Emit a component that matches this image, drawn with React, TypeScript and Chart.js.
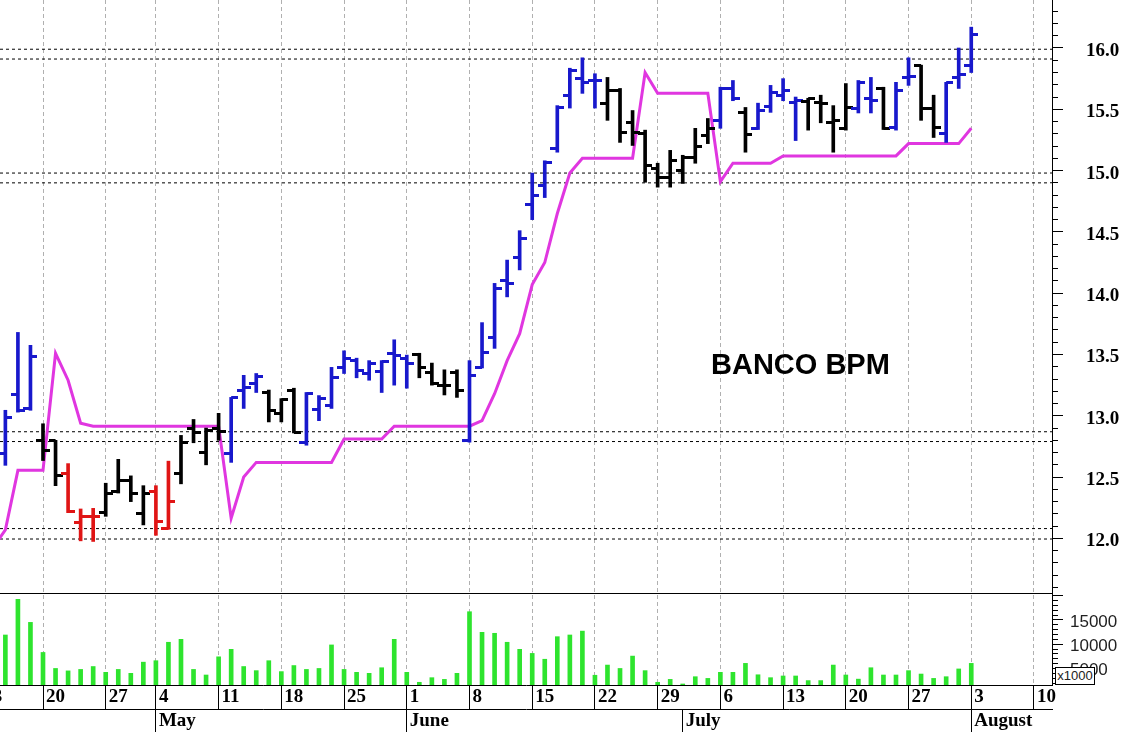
import React, { useEffect, useRef } from 'react';
import { Chart, registerables } from 'chart.js';

Chart.register(...registerables);

// ---- Axis days (trading days, MM-DD) ----
const AXIS_DAYS = [
  '04-13','04-14','04-15','04-16','04-17','04-20','04-21','04-22','04-23','04-24',
  '04-27','04-28','04-29','04-30','05-04','05-05','05-06','05-07','05-08','05-11',
  '05-12','05-13','05-14','05-15','05-18','05-19','05-20','05-21','05-22','05-25',
  '05-26','05-27','05-28','05-29','06-01','06-02','06-03','06-04','06-05','06-08',
  '06-09','06-10','06-11','06-12','06-15','06-16','06-17','06-18','06-19','06-22',
  '06-23','06-24','06-25','06-26','06-29','06-30','07-01','07-02','07-03','07-06',
  '07-07','07-08','07-09','07-10','07-13','07-14','07-15','07-16','07-17','07-20',
  '07-21','07-22','07-23','07-24','07-27','07-28','07-29','07-30','07-31','08-03',
  '08-04','08-05','08-06','08-07','08-10',
];
const WEEK_TICKS = [
  { day: '04-13', label: '13' }, { day: '04-20', label: '20' }, { day: '04-27', label: '27' },
  { day: '05-04', label: '4' }, { day: '05-11', label: '11' }, { day: '05-18', label: '18' },
  { day: '05-25', label: '25' }, { day: '06-01', label: '1' }, { day: '06-08', label: '8' },
  { day: '06-15', label: '15' }, { day: '06-22', label: '22' }, { day: '06-29', label: '29' },
  { day: '07-06', label: '6' }, { day: '07-13', label: '13' }, { day: '07-20', label: '20' },
  { day: '07-27', label: '27' }, { day: '08-03', label: '3' }, { day: '08-10', label: '10' },
];
const MONTH_TICKS = [
  { day: '05-04', label: 'May' }, { day: '06-01', label: 'June' },
  { day: '07-01', label: 'July' }, { day: '08-03', label: 'August' },
];
const PRICE_LABELS = ['12.0', '12.5', '13.0', '13.5', '14.0', '14.5', '15.0', '15.5', '16.0'];
const VOLUME_LABELS = ['5000', '10000', '15000'];

// ---- Series (one value per trading day, 04-13 .. 08-03) ----
const OPEN = [
  12.40, 12.60, 12.69, 13.17, 13.06, 12.80, 12.80, 12.53, 12.13, 12.18,
  12.21, 12.385, 12.47, 12.20, 12.38, 12.08, 12.53, 12.90, 12.70, 12.90,
  12.69, 13.21, 13.26, 13.19, 13.02, 13.21, 12.78, 13.05, 13.08, 13.395,
  13.45, 13.345, 13.36, 13.51, 13.47, 13.50, 13.355, 13.25, 13.355, 12.80,
  13.395, 13.64, 14.10, 14.29, 14.72, 14.88, 15.18, 15.615, 15.75, 15.735,
  15.55, 15.655, 15.39, 15.30, 15.02, 14.945, 15.00, 15.11, 15.29, 15.41,
  15.67, 15.475, 15.345, 15.525, 15.615, 15.555, 15.565, 15.555, 15.39, 15.345,
  15.51, 15.59, 15.67, 15.355, 15.76, 15.86, 15.51, 15.305, 15.76, 15.86,
];
const HIGH = [
  12.70, 12.85, 13.045, 13.68, 13.575, 12.935, 12.80, 12.61, 12.24, 12.245,
  12.45, 12.645, 12.51, 12.43, 12.43, 12.63, 12.84, 12.97, 12.90, 13.02,
  13.15, 13.33, 13.345, 13.21, 13.14, 13.225, 13.19, 13.165, 13.395, 13.53,
  13.47, 13.45, 13.45, 13.62, 13.495, 13.51, 13.43, 13.375, 13.375, 13.45,
  13.76, 14.08, 14.27, 14.51, 14.98, 15.08, 15.53, 15.835, 15.92, 15.79,
  15.76, 15.67, 15.49, 15.33, 15.06, 15.165, 15.125, 15.345, 15.425, 15.68,
  15.735, 15.515, 15.55, 15.695, 15.75, 15.60, 15.59, 15.615, 15.53, 15.71,
  15.735, 15.76, 15.68, 15.72, 15.92, 15.86, 15.615, 15.72, 16.00, 16.17,
];
const LOW = [
  12.35, 12.50, 12.596, 13.03, 13.045, 12.635, 12.43, 12.21, 11.98, 11.975,
  12.18, 12.37, 12.30, 12.11, 12.025, 12.075, 12.445, 12.78, 12.60, 12.80,
  12.62, 13.06, 13.19, 12.95, 12.95, 12.86, 12.76, 12.96, 13.06, 13.345,
  13.31, 13.29, 13.19, 13.25, 13.225, 13.31, 13.25, 13.17, 13.15, 12.785,
  13.39, 13.55, 13.97, 14.19, 14.60, 14.78, 15.15, 15.51, 15.63, 15.51,
  15.41, 15.23, 15.205, 14.905, 14.865, 14.865, 14.895, 15.06, 15.22, 15.345,
  15.57, 15.15, 15.335, 15.475, 15.57, 15.245, 15.33, 15.39, 15.15, 15.33,
  15.47, 15.47, 15.335, 15.33, 15.695, 15.41, 15.27, 15.23, 15.67, 15.80,
];
const CLOSE = [
  12.62, 12.70, 12.99, 13.04, 13.48, 12.72, 12.51, 12.22, 12.18, 12.18,
  12.37, 12.47, 12.37, 12.37, 12.14, 12.30, 12.78, 12.86, 12.88, 12.875,
  13.15, 13.23, 13.32, 13.045, 13.13, 12.865, 13.18, 13.14, 13.315, 13.47,
  13.37, 13.43, 13.44, 13.495, 13.43, 13.395, 13.265, 13.25, 13.21, 13.33,
  13.52, 14.04, 14.08, 14.45, 14.80, 15.07, 15.515, 15.82, 15.72, 15.735,
  15.655, 15.31, 15.31, 15.04, 14.945, 15.08, 15.11, 15.20, 15.345, 15.67,
  15.59, 15.295, 15.49, 15.64, 15.655, 15.57, 15.59, 15.545, 15.41, 15.515,
  15.72, 15.57, 15.345, 15.655, 15.77, 15.51, 15.355, 15.72, 15.78, 16.11,
];
// b = blue, k = black, r = red
const BAR_COLOR = [
  'b','b','b','b','b','k','k','r','r','r',
  'k','k','k','k','r','r','k','k','k','k',
  'b','b','b','k','k','k','b','b','b','b',
  'b','b','b','b','b','k','k','k','k','b',
  'b','b','b','b','b','b','b','b','b','b',
  'k','k','k','k','k','k','k','k','k','b',
  'b','k','b','b','b','b','k','k','k','k',
  'b','b','k','b','b','k','k','b','b','b',
];
const STOP = [
  11.80, 11.92, 12.07, 12.555, 12.555, 12.555, 13.51, 13.29, 12.94, 12.915,
  12.915, 12.915, 12.915, 12.915, 12.915, 12.915, 12.915, 12.915, 12.915, 12.915,
  12.165, 12.50, 12.62, 12.62, 12.62, 12.62, 12.62, 12.62, 12.62, 12.81,
  12.81, 12.81, 12.81, 12.915, 12.915, 12.915, 12.915, 12.915, 12.915, 12.915,
  12.96, 13.18, 13.45, 13.67, 14.07, 14.25, 14.65, 14.98, 15.10, 15.10,
  15.10, 15.10, 15.10, 15.80, 15.63, 15.63, 15.63, 15.63, 15.63, 14.91,
  15.06, 15.06, 15.06, 15.06, 15.12, 15.12, 15.12, 15.12, 15.12, 15.12,
  15.12, 15.12, 15.12, 15.12, 15.22, 15.22, 15.22, 15.22, 15.22, 15.345,
];
const VOLUME = [
  6000, 7000, 11900, 19250, 14500, 8300, 5000, 4500, 4800, 5400,
  4200, 4800, 4000, 6300, 6600, 10400, 11000, 4800, 3650, 7400,
  8950, 5400, 4550, 6600, 4350, 5600, 4800, 5000, 9850, 4800,
  4200, 4000, 5150, 11000, 4200, 2150, 3100, 2750, 4000, 16700,
  12450, 12250, 10400, 8950, 8100, 6900, 11550, 11900, 12700, 3600,
  5700, 5000, 7550, 4550, 2150, 2750, 1800, 3300, 2950, 4200,
  4200, 6050, 3700, 3100, 3450, 3450, 2500, 2500, 5700, 3650,
  2800, 5150, 3650, 3650, 4550, 3850, 2950, 3300, 4900, 6050,
];
const SUPPORT_LEVELS = [15.99, 15.91, 14.98, 14.90, 12.87, 12.79, 12.08, 11.995];

// ---- Scale ranges ----
const X_MIN = 1.572;
const X_MAX = 85.437;
const P_MIN = 11.5546;
const P_MAX = 16.3915;
const V_MIN = 1590;
const V_MAX = 20557;

const PALETTE: Record<string, string> = { b: '#1818cc', k: '#000000', r: '#e01515' };
const SERIF = "'Liberation Serif', 'Times New Roman', serif";
const SANS = "'Liberation Sans', Arial, sans-serif";

export default function App() {
  const ref = useRef<HTMLCanvasElement | null>(null);

  useEffect(() => {
    const canvas = ref.current;
    if (!canvas) return;

    const makeTick = (color: string, side: 'L' | 'R') => {
      const c = document.createElement('canvas');
      c.width = 14;
      c.height = 3;
      const g = c.getContext('2d')!;
      g.fillStyle = color;
      if (side === 'L') g.fillRect(0, 0, 7, 3);
      else g.fillRect(7, 0, 7, 3);
      return c;
    };
    const openImg: Record<string, HTMLCanvasElement> = {};
    const closeImg: Record<string, HTMLCanvasElement> = {};
    Object.keys(PALETTE).forEach((k) => {
      openImg[k] = makeTick(PALETTE[k], 'L');
      closeImg[k] = makeTick(PALETTE[k], 'R');
    });

    const weekIdx = WEEK_TICKS.map((w) => AXIS_DAYS.indexOf(w.day));
    const monthIdx = MONTH_TICKS.map((m) => AXIS_DAYS.indexOf(m.day));
    const priceTicks: number[] = [];
    for (let k = 116; k <= 163; k++) priceTicks.push(k / 10);
    const volTicks: number[] = [];
    for (let k = 2; k <= 20; k++) volTicks.push(k * 1000);
    volTicks.push(V_MAX);
    const isMajorPrice = (v: number) => Math.round(v * 10) % 5 === 0;

    const supportSets = SUPPORT_LEVELS.map((lvl) => ({
      type: 'line' as const,
      xAxisID: 'x',
      yAxisID: 'y',
      data: [{ x: X_MIN, y: lvl }, { x: X_MAX, y: lvl }],
      borderColor: '#000',
      borderWidth: 1,
      borderDash: [3, 3],
      pointRadius: 0,
      order: 9,
    }));

    const chart = new Chart(canvas, {
      type: 'line',
      data: {
        datasets: [
          ...supportSets,
          {
            type: 'bar', xAxisID: 'x', yAxisID: 'yv',
            data: VOLUME.map((v, i) => ({ x: i, y: v })),
            backgroundColor: '#2ee42e', borderWidth: 0, barThickness: 4, grouped: false, order: 8,
          } as any,
          {
            type: 'line', xAxisID: 'x', yAxisID: 'y',
            data: STOP.map((v, i) => ({ x: i, y: v })),
            borderColor: '#e036e0', borderWidth: 3, pointRadius: 0, tension: 0, order: 5,
          },
          {
            type: 'bar', xAxisID: 'x', yAxisID: 'y',
            data: HIGH.map((h, i) => ({ x: i, y: [LOW[i], h] })),
            backgroundColor: BAR_COLOR.map((c) => PALETTE[c]),
            borderWidth: 0, barThickness: 3, grouped: false, order: 2,
          } as any,
          {
            type: 'scatter', xAxisID: 'x', yAxisID: 'y',
            data: OPEN.map((v, i) => ({ x: i, y: v })),
            pointStyle: (ctx: any) => openImg[BAR_COLOR[ctx.dataIndex] || 'k'],
            pointRadius: 3, showLine: false, order: 1,
          } as any,
          {
            type: 'scatter', xAxisID: 'x', yAxisID: 'y',
            data: CLOSE.map((v, i) => ({ x: i, y: v })),
            pointStyle: (ctx: any) => closeImg[BAR_COLOR[ctx.dataIndex] || 'k'],
            pointRadius: 3, showLine: false, order: 1,
          } as any,
        ],
      },
      options: {
        responsive: false,
        devicePixelRatio: 1,
        animation: false,
        events: [],
        layout: { padding: 0, autoPadding: false },
        plugins: { legend: { display: false }, tooltip: { enabled: false }, title: { display: false } },
        scales: {
          x: {
            type: 'linear', position: 'bottom', min: X_MIN, max: X_MAX, offset: false,
            afterBuildTicks: (s: any) => { s.ticks = weekIdx.map((v) => ({ value: v })); },
            afterFit: (s: any) => { s.height = 24; s.paddingLeft = 0; s.paddingRight = 0; },
            ticks: {
              autoSkip: false, maxRotation: 0, minRotation: 0, align: 'start', labelOffset: 3, padding: -23.4,
              color: '#000', font: { family: SERIF, size: 19, weight: 'bold' },
              callback: (v: any) => {
                const k = weekIdx.indexOf(Math.round(Number(v)));
                return k >= 0 ? WEEK_TICKS[k].label : '';
              },
            },
            grid: {
              display: true, offset: false, drawOnChartArea: true, drawTicks: true, tickLength: 24,
              color: '#b0b0b0', lineWidth: 1, tickColor: '#000', tickWidth: 1, tickBorderDash: [],
            },
            border: { display: true, color: '#000', width: 1, dash: [4, 3] },
          } as any,
          x2: {
            type: 'linear', axis: 'x', position: 'bottom', min: X_MIN, max: X_MAX, offset: false,
            afterBuildTicks: (s: any) => { s.ticks = monthIdx.map((v) => ({ value: v })); },
            afterFit: (s: any) => { s.height = 23; s.paddingLeft = 0; s.paddingRight = 0; },
            ticks: {
              autoSkip: false, maxRotation: 0, minRotation: 0, align: 'start', labelOffset: 3, padding: -22.4,
              color: '#000', font: { family: SERIF, size: 19, weight: 'bold' },
              callback: (v: any) => {
                const k = monthIdx.indexOf(Math.round(Number(v)));
                return k >= 0 ? MONTH_TICKS[k].label : '';
              },
            },
            grid: {
              display: true, offset: false, drawOnChartArea: false, drawTicks: true, tickLength: 23,
              tickColor: '#000', tickWidth: 1, tickBorderDash: [],
            },
            border: { display: true, color: '#000', width: 1 },
          } as any,
          y: {
            type: 'linear', position: 'right', stack: 'main', stackWeight: 593,
            min: P_MIN, max: P_MAX, beginAtZero: false,
            afterBuildTicks: (s: any) => { s.ticks = priceTicks.map((v) => ({ value: v })); },
            afterFit: (s: any) => { s.width = 71; s.paddingTop = 0; s.paddingBottom = 0; },
            ticks: {
              autoSkip: false, padding: 23, labelOffset: 3, color: '#000',
              font: { family: SERIF, size: 19, weight: 'bold' },
              callback: (v: any) => {
                const t = Number(v).toFixed(1);
                return isMajorPrice(Number(v)) && PRICE_LABELS.includes(t) ? t : '';
              },
            },
            grid: {
              display: true, drawOnChartArea: false, drawTicks: true, tickLength: 11,
              tickColor: '#000', tickWidth: 1,
              tickBorderDash: (ctx: any) => (ctx.tick && isMajorPrice(ctx.tick.value) ? [] : [5, 30]),
            },
            border: { display: true, color: '#000', width: 1 },
          } as any,
          yv: {
            type: 'linear', axis: 'y', position: 'right', stack: 'main', stackWeight: 92,
            min: V_MIN, max: V_MAX, beginAtZero: false,
            afterBuildTicks: (s: any) => { s.ticks = volTicks.map((v) => ({ value: v })); },
            afterFit: (s: any) => { s.width = 71; s.paddingTop = 0; s.paddingBottom = 0; },
            ticks: {
              autoSkip: false, padding: 7, labelOffset: 2, color: '#222', font: { family: SANS, size: 17 },
              callback: (v: any) => (VOLUME_LABELS.includes(String(v)) ? String(v) : ''),
            },
            grid: {
              display: true, drawOnChartArea: true, drawTicks: true, tickLength: 11, lineWidth: 1,
              color: (ctx: any) => (ctx.tick && ctx.tick.value === V_MAX ? '#000' : 'rgba(0,0,0,0)'),
              tickColor: (ctx: any) => (ctx.tick && ctx.tick.value === V_MAX ? 'rgba(0,0,0,0)' : '#000'),
              tickWidth: 1,
              tickBorderDash: (ctx: any) => (ctx.tick && ctx.tick.value % 5000 === 0 ? [] : [5, 30]),
            },
            border: { display: true, color: '#000', width: 1 },
          } as any,
        },
      } as any,
    });

    return () => chart.destroy();
  }, []);

  return (
    <div
      style={{
        position: 'absolute', left: 0, top: 0, width: 1123, height: 732,
        background: '#fff', overflow: 'hidden',
      }}
    >
      <canvas ref={ref} width={1123} height={732} style={{ display: 'block', width: 1123, height: 732 }} />
      <div
        style={{
          position: 'absolute', left: 711, top: 347, font: `bold 29px ${SANS}`,
          lineHeight: '34px', color: '#000', whiteSpace: 'nowrap',
        }}
      >
        BANCO BPM
      </div>
      <div
        style={{
          position: 'absolute', left: 1055, top: 667, width: 38, height: 16,
          border: '1px solid #000', background: '#fff', font: `13px ${SANS}`,
          lineHeight: '16px', textAlign: 'center', color: '#222',
        }}
      >
        x1000
      </div>
    </div>
  );
}
